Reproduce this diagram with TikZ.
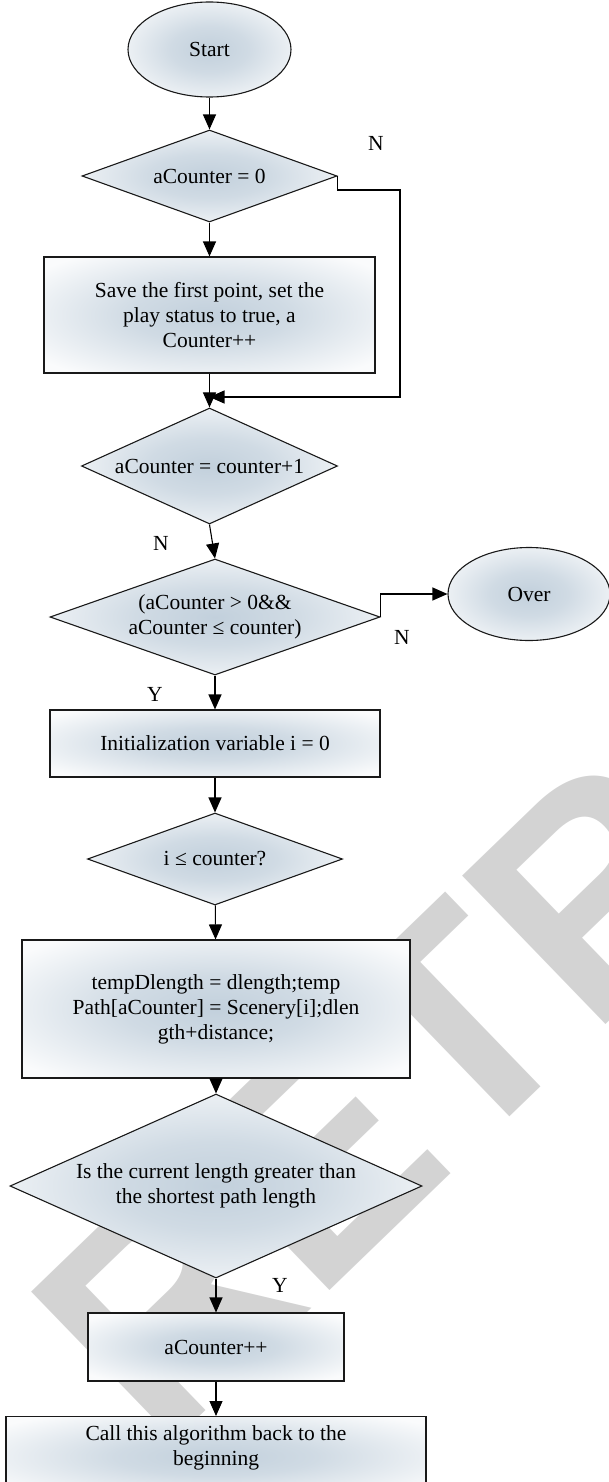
\documentclass[tikz,border=0pt]{standalone}
\usepackage{fontspec}
\setmainfont{Liberation Serif}
\newfontfamily\wmfont{Liberation Sans}
\usetikzlibrary{shapes.geometric,arrows.meta}
\definecolor{gradc}{RGB}{194,208,220}
\definecolor{edgec}{RGB}{250,251,252}
\definecolor{wmgray}{RGB}{211,211,211}
\pgfdeclareradialshading{nodeshade}{\pgfpointorigin}{color(0bp)=(gradc); color(12bp)=(gradc!75!edgec); color(32bp)=(edgec); color(50bp)=(edgec)}
\begin{document}
\begin{tikzpicture}[x=1pt,y=-1pt,
  every node/.style={font=\fontsize{21.5}{25}\selectfont},
  shadedfill/.style={shading=nodeshade, draw=black!90, line width=1.1pt},
  term/.style={shadedfill, ellipse, inner sep=0pt},
  decide/.style={shadedfill, diamond, inner sep=0pt, align=center},
  proc/.style={shadedfill, rectangle, inner sep=0pt, align=center},
  arr/.style={line width=1.1pt, -{Triangle[length=15pt,width=13pt]}},
  lbl/.style={inner sep=0pt}]
\useasboundingbox (0,0) rectangle (609,1482);
\begin{scope}
\clip (0,0) rectangle (609,1482);
\node[anchor=base west, rotate=44, text=wmgray, inner sep=0pt,
      font=\wmfont\bfseries\fontsize{300}{300}\selectfont] (wm) at (160,1455) {RETRACTED};
\end{scope}

\node[term, minimum width=163, minimum height=95] (start) at (209.5,49.5) {Start};
\node[decide, minimum width=255, minimum height=92, shape aspect=2.77] (d1) at (209.5,176) {aCounter = 0};
\node[proc, minimum width=331, minimum height=116] (r1) at (209.5,315) {Save the first point, set the\\play status to true, a\\Counter++};
\node[decide, minimum width=256, minimum height=116, shape aspect=2.2] (d2) at (209.5,466) {aCounter = counter+1};
\node[decide, minimum width=330, minimum height=116, shape aspect=2.84] (d3) at (215,617) {(aCounter > 0\&\&\\aCounter ≤ counter)};
\node[term, minimum width=162, minimum height=93] (over) at (529,594) {Over};
\node[proc, minimum width=330, minimum height=67] (init) at (215,743.5) {Initialization variable i = 0};
\node[decide, minimum width=255, minimum height=92, shape aspect=2.77] (d4) at (215,859) {i ≤ counter?};
\node[proc, minimum width=388, minimum height=138] (big) at (216,1009) {tempDlength = dlength;temp\\Path[aCounter] = Scenery[i];dlen\\gth+distance;};
\node[decide, minimum width=412, minimum height=184, shape aspect=2.24] (d5) at (216,1186) {Is the current length greater than\\the shortest path length};
\node[proc, minimum width=256, minimum height=68] (inc) at (216,1347) {aCounter++};
\node[proc, minimum width=420, minimum height=80, anchor=north] (final) at (216,1416) {};
\node[align=center] (finaltext) at (216,1447.5) {Call this algorithm back to the\\beginning};

\coordinate (lp1) at (400,190);
\coordinate (lp2) at (400,397);

\draw[arr] (start) -- (d1);
\draw[arr] (d1) -- (r1);
\draw[arr] (r1) -- (d2);
\draw[arr] (d1.east) |- (lp1) -- (lp2) -- (r1.south |- lp2);
\draw[arr] (d2.south) -- (d3.north);
\draw[arr] (d3.east) |- (over.west);
\draw[arr] (d3) -- (init);
\draw[arr] (init) -- (d4);
\draw[arr] (d4) -- (big);
\draw[arr] (big) -- (d5);
\draw[arr] (d5) -- (inc);
\draw[arr] (inc) -- (final);

\node[lbl] (n1) at (376,143) {N};
\node[lbl] (n2) at (161,543) {N};
\node[lbl] (n3) at (402,637) {N};
\node[lbl] (y1) at (155,694) {Y};
\node[lbl] (y2) at (280,1285) {Y};
\end{tikzpicture}
\end{document}
